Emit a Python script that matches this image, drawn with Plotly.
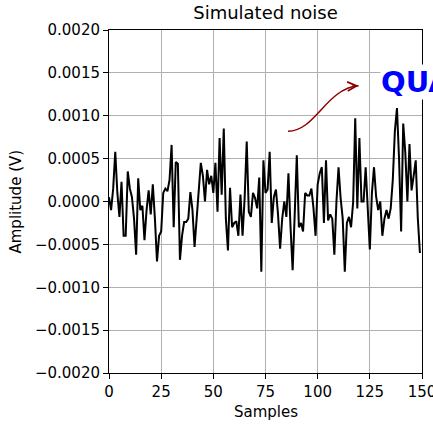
import plotly.graph_objects as go

samples = list(range(150))
amplitude = [
    0.00005, -0.0001, 0.00015, 0.00058, 0.0001, -0.00018, 0.00023, -0.0004, -0.0004, 0.00035,
    0.00015, 0.00005, -0.0002, -0.00062, 0.00027, -0.0001, -0.00005, -0.00045, -0.0001, 0.00013,
    -0.00015, 0.0002, -0.0002, -0.0007, -0.0004, -0.00035, 0.0001, 0.00015, 0.00012, 0.00025,
    0.00066, -0.0003, 0.00046, 0.00044, -0.00068, -0.0004, -0.00024, -0.00024, -0.0002, 0.00011,
    -0.0001, -0.00053, -0.0002, 0.0001, 0.00045, 0.0003, 0.0, 0.00037, 0.0002, 0.0003,
    0.0001, 0.00045, -0.00012, 0.00074, 0.00008, 0.00085, -0.0002, -0.00057, 0.00016, -0.0003,
    -0.00025, -0.00023, -0.0004, 0.00008, -0.0004, 0.00004, 0.0007, -0.00012, -0.00018, 0.0001,
    0.00004, -0.00008, 0.00028, -0.00082, 0.00048, 0.0001, 0.00014, 0.00058, -0.00025, 0.00005,
    0.00014, -0.00015, -0.00055, -0.0002, 0.0, -0.00018, 0.00033, -0.0003, -0.0008, -0.00015,
    0.00054, -0.0003, -0.00025, -0.00035, 0.0001, 0.00007, 0.00007, 0.00015, -0.00008, -0.0004,
    0.0002, 0.00033, 0.0004, -0.00025, 0.00048, -0.00022, -0.00015, -0.0002, -0.00062, 0.0,
    0.0004, 0.00004, -0.0002, -0.00082, -0.00025, -0.00018, -0.0003, -0.00001, 0.00097, -0.00008,
    0.00074, 0.0, 0.0, 0.0004, -0.0001, -0.00056, 0.0001, 0.0004, 0.00006, -0.0001,
    0.0, -0.0004, -0.0002, -0.0001, -0.0002, -0.00008, 0.00025, 0.00082, 0.00109, 0.0005,
    -0.00035, 0.00091, 0.00057, 0.0, 0.00067, 0.00013, 0.0003, 0.00048, -0.0002, -0.0006,
]

x_ticks = [0, 25, 50, 75, 100, 125, 150]
y_ticks = [0.002, 0.0015, 0.001, 0.0005, 0.0, -0.0005, -0.001, -0.0015, -0.002]
y_ticktext = [("\u2212" if v < 0 else "") + f"{abs(v):.4f}" for v in y_ticks]

title_text = "Simulated noise"
x_label = "Samples"
y_label = "Amplitude (V)"
note_text = "QUANTUM"
arrow_start = (85.8, 0.00082)
arrow_ctrl1 = (99.0, 0.00082)
arrow_ctrl2 = (104.0, 0.00132)
arrow_end = (119.6, 0.00135)
note_pos = (130.0, 0.00139)

FONT = "DejaVu Sans"

fig = go.Figure()
fig.add_trace(go.Scatter(x=samples, y=amplitude, mode="lines",
                         line=dict(color="black", width=2), showlegend=False))

axis_common = dict(showline=True, linecolor="black", linewidth=1, mirror=True,
                   ticks="outside", ticklen=5, tickwidth=1, tickcolor="black",
                   showgrid=True, gridcolor="#b0b0b0", gridwidth=1, zeroline=False,
                   automargin=False,
                   tickfont=dict(family=FONT, size=15, color="black"))

fig.update_xaxes(range=[0, 150], tickvals=x_ticks, ticklabeloverflow="allow", **axis_common)
fig.update_yaxes(range=[-0.002, 0.002], tickvals=y_ticks, ticktext=y_ticktext, **axis_common)

# curved arrow body
path = (f"M {arrow_start[0]},{arrow_start[1]} C {arrow_ctrl1[0]},{arrow_ctrl1[1]} "
        f"{arrow_ctrl2[0]},{arrow_ctrl2[1]} {arrow_end[0]},{arrow_end[1]}")
fig.add_shape(type="path", path=path, xref="x", yref="y",
              line=dict(color="#8b0000", width=1.5))
# arrow head
fig.add_annotation(x=arrow_end[0], y=arrow_end[1], xref="x", yref="y", text="",
                   showarrow=True, arrowhead=5, arrowsize=1.2, arrowwidth=1.5,
                   arrowcolor="#8b0000", ax=-8, ay=0.5, standoff=0)

fig.add_annotation(x=note_pos[0], y=note_pos[1], xref="x", yref="y", text=note_text,
                   showarrow=False, xanchor="left", yanchor="middle",
                   bgcolor="white", borderpad=0,
                   font=dict(family=FONT, size=29, color="blue", weight="bold"))

fig.add_annotation(text=x_label, xref="paper", yref="paper", x=0.5, y=-(412 - 373) / 343,
                   yanchor="middle", showarrow=False,
                   font=dict(family=FONT, size=15, color="black"))
fig.add_annotation(text=y_label, xref="paper", yref="paper", x=-(109 - 15) / 313, y=0.5,
                   xanchor="center", yanchor="middle", textangle=-90, showarrow=False,
                   font=dict(family=FONT, size=15, color="black"))

fig.update_layout(
    width=433, height=427,
    margin=dict(l=109, r=11, t=30, b=54, autoexpand=False),
    paper_bgcolor="white", plot_bgcolor="white",
    title=dict(text=title_text, x=(109 + 422) / 2 / 433, xanchor="center",
               y=1 - 13 / 427, yanchor="middle", yref="container",
               font=dict(family=FONT, size=18, color="black")),
)

fig.write_html("out.html")
